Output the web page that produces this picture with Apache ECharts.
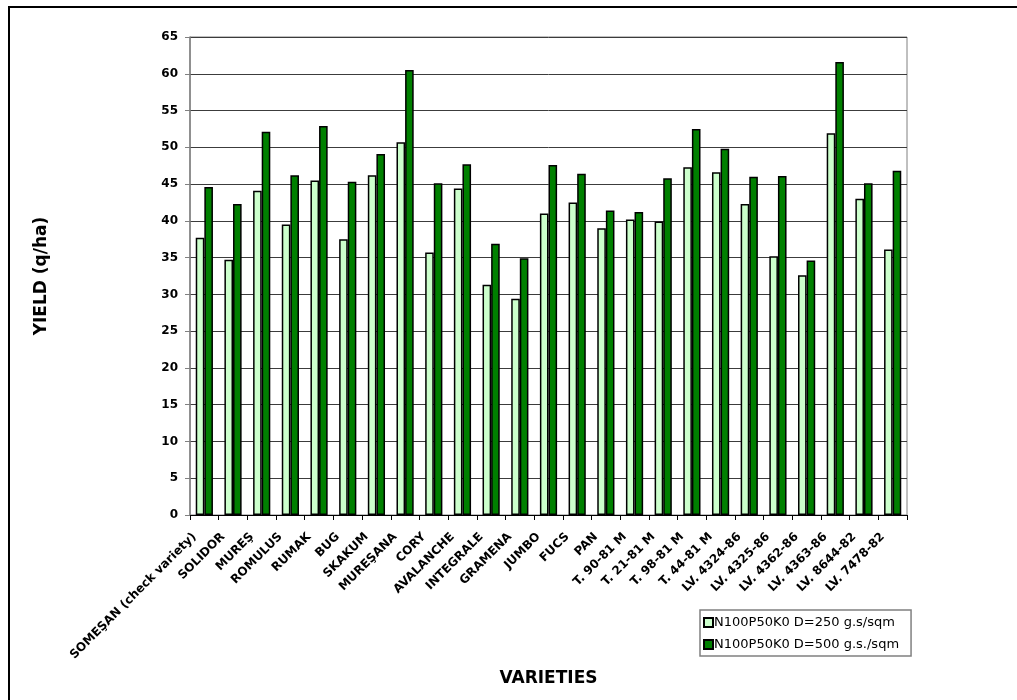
<!DOCTYPE html>
<html>
<head>
<meta charset="utf-8">
<script src="https://cdn.jsdelivr.net/npm/echarts@6/dist/echarts.min.js"></script>
<style>
  html, body { margin: 0; padding: 0; background: #fff; overflow: hidden; }
  #frame { position: absolute; left: 8px; top: 6px; width: 1200px; height: 900px;
           border: 2.5px solid #000; box-sizing: border-box; }
  #chart { position: absolute; left: 0; top: 0; width: 1017px; height: 700px; }
</style>
</head>
<body>
<div id="frame"></div>
<div id="chart"></div>
<script>
// Wheat varieties and their yields (q/ha) at two sowing densities
const varieties = [
  'SOMEŞAN (check variety)', 'SOLIDOR', 'MUREŞ', 'ROMULUS', 'RUMAK', 'BUG', 'SKAKUM',
  'MUREŞANA', 'CORY', 'AVALANCHE', 'INTEGRALE', 'GRAMENA', 'JUMBO', 'FUCS', 'PAN',
  'T. 90-81 M', 'T. 21-81 M', 'T. 98-81 M', 'T. 44-81 M', 'LV. 4324-86', 'LV. 4325-86',
  'LV. 4362-86', 'LV. 4363-86', 'LV. 8644-82', 'LV. 7478-82'
];
const yieldD250 = [37.7, 34.7, 44.1, 39.5, 45.5, 37.5, 46.2, 50.7, 35.7, 44.4, 31.3, 29.4, 41.0,
                   42.5, 39.0, 40.2, 39.9, 47.3, 46.6, 42.3, 35.2, 32.6, 51.9, 43.0, 36.1];
const yieldD500 = [44.6, 42.3, 52.1, 46.2, 52.9, 45.3, 49.1, 60.5, 45.1, 47.7, 36.9, 34.9, 47.6,
                   46.4, 41.4, 41.2, 45.8, 52.5, 49.8, 46.0, 46.1, 34.6, 61.6, 45.1, 46.8];
const seriesNames = ['N100P50K0 D=250 g.s/sqm', 'N100P50K0 D=500 g.s./sqm'];
const yTicks = { min: 0, max: 65, step: 5 };

const chart = echarts.init(document.getElementById('chart'));
const font = '"DejaVu Sans", Arial, sans-serif';

chart.setOption({
  animation: false,
  backgroundColor: 'transparent',
  grid: {
    left: 190, right: 110, top: 37, bottom: 185,
    show: true, borderColor: '#808080', borderWidth: 1, backgroundColor: 'transparent'
  },
  legend: {
    orient: 'vertical',
    left: 700, top: 610,
    padding: [6, 12, 5, 3],
    itemGap: 9,
    itemWidth: 9, itemHeight: 9,
    icon: 'rect',
    borderColor: '#808080', borderWidth: 1.5,
    backgroundColor: '#fff',
    textStyle: { fontFamily: font, fontSize: 13, color: '#000', padding: [0, 0, 0, -4] },
    data: seriesNames
  },
  xAxis: {
    type: 'category',
    data: varieties,
    name: 'VARIETIES',
    nameLocation: 'middle',
    nameGap: 155,
    nameTextStyle: { fontFamily: font, fontSize: 17, fontWeight: 'bold', color: '#000' },
    axisLine: { lineStyle: { color: '#000', width: 1 } },
    axisTick: { show: true, length: 5, lineStyle: { color: '#000' } },
    axisLabel: {
      interval: 0, rotate: 45, margin: 10,
      padding: [0, 14, 0, 0],
      fontFamily: font, fontSize: 12, fontWeight: 'bold', color: '#000'
    }
  },
  yAxis: {
    type: 'value',
    min: yTicks.min, max: yTicks.max, interval: yTicks.step,
    name: 'YIELD (q/ha)',
    nameLocation: 'middle',
    nameGap: 140,
    nameRotate: 90,
    nameTextStyle: { fontFamily: font, fontSize: 17, fontWeight: 'bold', color: '#000' },
    axisLine: { show: true, lineStyle: { color: '#808080', width: 1.5 } },
    axisTick: { show: true, inside: false, length: 5, lineStyle: { color: '#808080' } },
    axisLabel: { margin: 12, fontFamily: font, fontSize: 12, fontWeight: 'bold', color: '#000' },
    splitLine: { show: true, lineStyle: { color: '#3c3c3c', width: 1 } }
  },
  series: [
    {
      name: seriesNames[0], type: 'bar', data: yieldD250,
      barGap: '0%', barCategoryGap: '40%',
      itemStyle: { color: '#CCFFCC', borderColor: '#000', borderWidth: 1.5 }
    },
    {
      name: seriesNames[1], type: 'bar', data: yieldD500,
      barGap: '0%', barCategoryGap: '40%',
      itemStyle: { color: '#008000', borderColor: '#000', borderWidth: 1.5 }
    }
  ]
});
</script>
</body>
</html>
